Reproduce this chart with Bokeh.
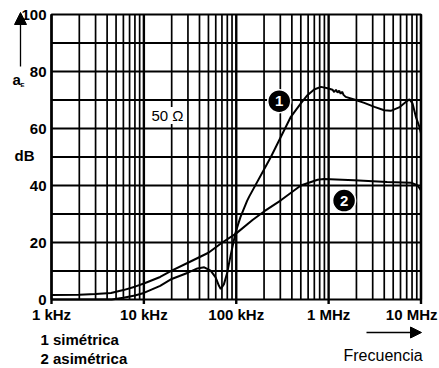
from bokeh.plotting import figure
from bokeh.models import Range1d, Label, Arrow, NormalHead, ColumnDataSource
from bokeh.core.properties import value
from bokeh.embed import file_html
from bokeh.resources import INLINE

FONT = "Liberation Sans"

# ---- data ----
freq_sym = [1e3, 4.5e3, 6e3, 8e3, 10e3, 15e3, 20e3, 30e3, 38e3, 45e3, 52.8e3, 59.8e3, 65e3, 68e3,
            73.6e3, 80e3, 86.8e3, 98.5e3, 111e3, 131e3, 138e3, 237e3, 390e3, 500e3, 590e3, 697e3,
            825e3, 974e3, 1.1e6, 1.15e6, 1.2e6, 1.25e6, 1.3e6, 1.35e6, 1.4e6, 1.45e6, 1.53e6, 1.89e6,
            2.43e6, 3.13e6, 4.0e6, 4.7e6, 5.8e6, 6.9e6, 7.5e6, 8.1e6, 8.8e6, 9.6e6, 1e7]
db_sym = [0.0, 0.0, 0.6, 1.4, 2.3, 4.8, 7.2, 9.4, 10.9, 11.3, 10.1, 7.8, 4.8, 3.7,
          5.4, 9.5, 15.4, 23.6, 28.9, 34.6, 36.1, 50.0, 64.1, 68.8, 71.7, 73.7,
          74.6, 74.1, 73.6, 72.8, 73.6, 72.6, 73.3, 72.2, 72.9, 71.8, 71.1, 70.2,
          69.0, 67.6, 66.4, 66.2, 67.4, 69.4, 70.2, 68.8, 64.1, 60.6, 58.2]

freq_asym = [1e3, 2e3, 3e3, 4.4e3, 6e3, 8e3, 10e3, 15e3, 20e3, 30e3, 50e3, 70e3, 100e3, 150e3,
             200e3, 304e3, 500e3, 760e3, 890e3, 1.89e6, 4.3e6, 7.8e6, 9.2e6, 1e7]
db_asym = [1.6, 1.7, 1.9, 2.3, 3.3, 4.5, 5.6, 7.9, 10.1, 12.9, 16.4, 19.9, 23.2, 27.9,
           30.9, 34.8, 40.0, 42.0, 42.3, 41.8, 41.2, 41.0, 40.0, 38.3]

x_ticks = [1e3, 1e4, 1e5, 1e6, 1e7]
x_tick_labels = ["1 kHz", "10 kHz", "100 kHz", "1 MHz", "10 MHz"]
y_ticks = [0, 20, 40, 60, 80, 100]
y_tick_labels = ["0", "20", "40", "60", "80", "100"]
y_grid = [10, 20, 30, 40, 50, 60, 70, 80, 90]
x_grid_minor = [m * 10 ** e for e in range(3, 7) for m in range(2, 10)]

marker_freq = [2.92e5, 1.47e6]
marker_db = [69.6, 34.7]
marker_text = ["1", "2"]
legend_lines = ["1 simétrica", "2 asimétrica"]

# ---- page pixel <-> data helpers (the frame covers the whole canvas) ----
W, H = 439, 368
FL, FR, FT, FB = 51.0, 420.5, 14.0, 299.0
DEC = (FR - FL) / 4.0
PXDB = (FB - FT) / 100.0
def fx(px):
    return 1e3 * 10 ** ((px - FL) / DEC)
def fy(py):
    return (FB - py) / PXDB

p = figure(width=W, height=H, x_axis_type="log",
           x_range=Range1d(fx(0), fx(W)), y_range=Range1d(fy(H), fy(0)),
           x_axis_location=None, y_axis_location=None,
           output_backend="svg", toolbar_location=None,
           min_border=0, min_border_left=0, min_border_right=0, min_border_top=0, min_border_bottom=0)
p.background_fill_color = "white"
p.border_fill_color = "white"
p.outline_line_color = None
p.grid.visible = False

x0, x1 = x_ticks[0], x_ticks[-1]
y0, y1 = y_ticks[0], y_ticks[-1]

# grid
p.segment(x0=x_grid_minor, y0=[y0] * len(x_grid_minor), x1=x_grid_minor, y1=[y1] * len(x_grid_minor),
          line_color="black", line_width=1.7)
p.segment(x0=x_ticks, y0=[fy(FB + 4.5)] * len(x_ticks), x1=x_ticks, y1=[y1] * len(x_ticks),
          line_color="black", line_width=2.4)
p.segment(x0=[x0] * len(y_grid), y0=y_grid, x1=[x1] * len(y_grid), y1=y_grid,
          line_color="black", line_width=1.9)
p.quad(left=[x0], right=[x1], bottom=[y0], top=[y1], fill_color=None, line_color="black", line_width=2.2)

# curves
p.line(freq_sym, db_sym, line_color="black", line_width=2)
p.line(freq_asym, db_asym, line_color="black", line_width=2)

# numbered markers
msrc = ColumnDataSource(dict(x=marker_freq, y=marker_db, t=marker_text))
p.scatter("x", "y", source=msrc, size=23, fill_color="black", line_color="white", line_width=1.5)
p.text("x", "y", text="t", source=msrc, text_color="white", text_font=value(FONT),
       text_font_style="bold", text_font_size="15px", text_align="center", text_baseline="middle")

# tick labels
p.text(x=[fx(46)] * len(y_ticks), y=y_ticks, text=y_tick_labels, text_font=value(FONT),
       text_font_style="bold", text_font_size="15px", text_align="right", text_baseline="middle",
       text_color="black")
p.text(x=x_ticks[:-1], y=[fy(313.5)] * (len(x_ticks) - 1), text=x_tick_labels[:-1], text_font=value(FONT),
       text_font_style="bold", text_font_size="15px", text_align="center", text_baseline="middle",
       text_color="black")
p.text(x=[fx(437)], y=[fy(313.5)], text=[x_tick_labels[-1]], text_font=value(FONT),
       text_font_style="bold", text_font_size="15px", text_align="right", text_baseline="middle",
       text_color="black")

def lab(text, px, py, size="15px", style="bold", align="left", bg=None):
    kw = dict(x=fx(px), y=fy(py), text=text, text_font=FONT, text_font_size=size,
              text_font_style=style, text_align=align, text_baseline="middle", text_color="black")
    if bg:
        kw["background_fill_color"] = bg
    p.add_layout(Label(**kw))

lab("50 Ω", 151, 115, style="normal", bg="white")
lab("a", 12, 79)
lab("E", 20, 84, size="6px")
lab("dB", 14, 155)
lab(legend_lines[0], 40, 339)
lab(legend_lines[1], 40, 357.5)
lab("Frecuencia", 343, 355, size="16px", style="normal")

p.add_layout(Arrow(x_start=fx(20), y_start=fy(66), x_end=fx(20), y_end=fy(12),
                   line_width=1.3, line_color="black",
                   end=NormalHead(size=12, fill_color="black", line_color="black")))
p.add_layout(Arrow(x_start=fx(366), y_start=fy(332), x_end=fx(421), y_end=fy(332),
                   line_width=1.3, line_color="black",
                   end=NormalHead(size=11, fill_color="black", line_color="black")))

open("out.html", "w").write(file_html(p, INLINE))
